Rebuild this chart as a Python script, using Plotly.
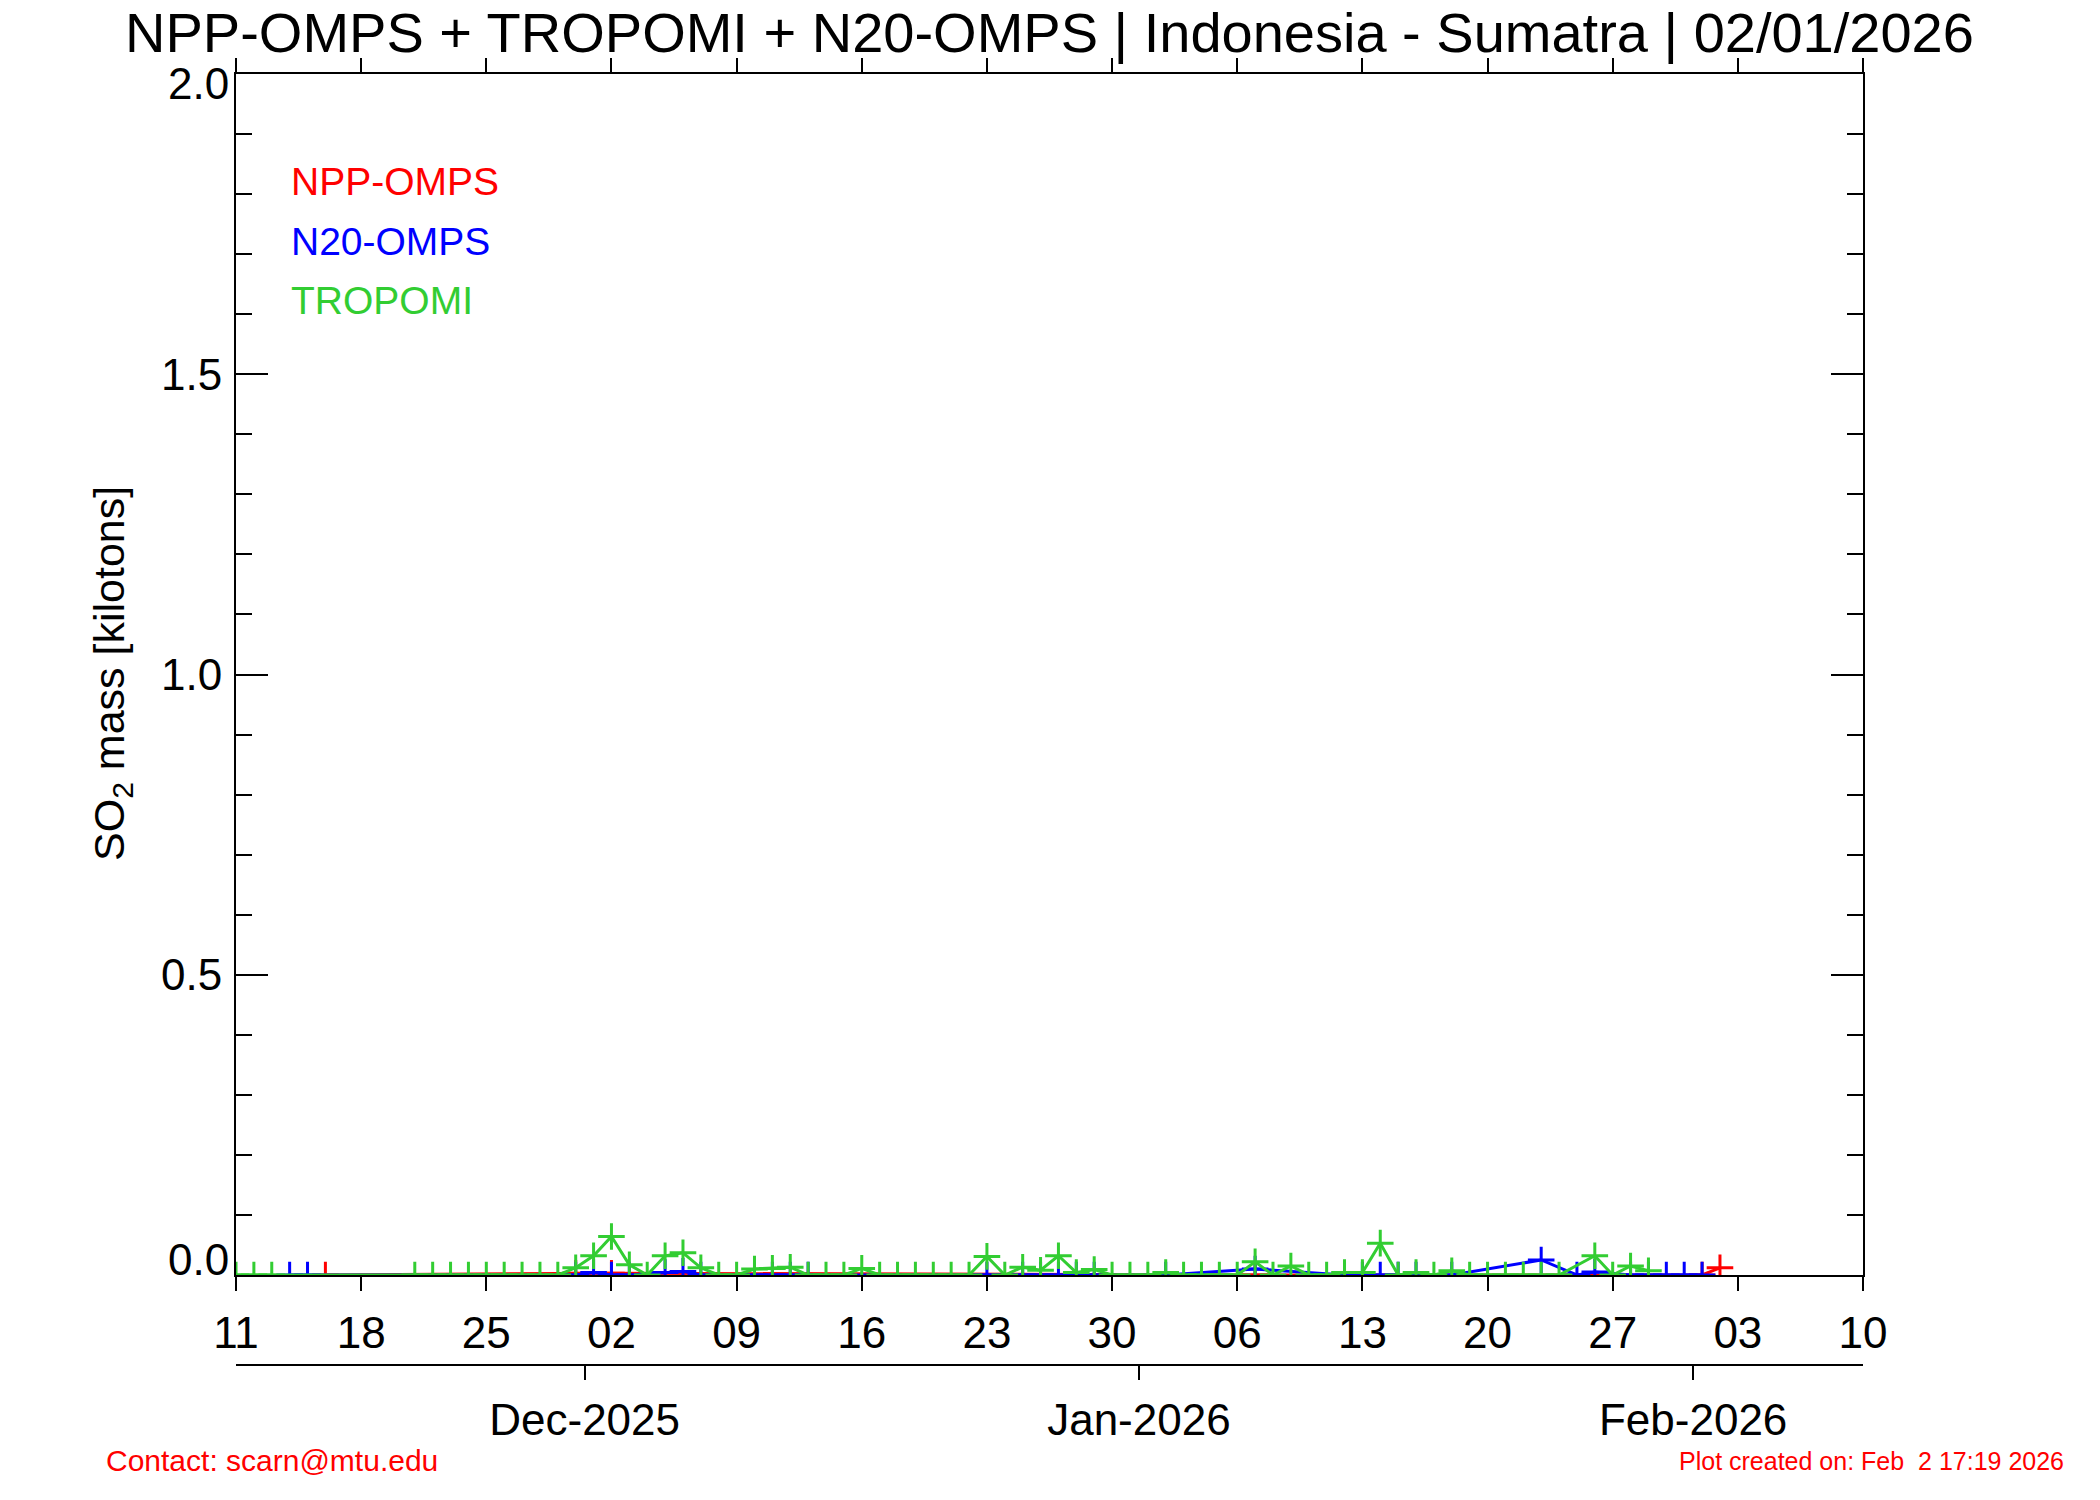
import plotly.graph_objects as go

# ---------------- data ----------------
NPP_DATES = ["2025-11-16", "2025-11-30", "2025-12-02", "2026-01-07", "2026-02-01", "2026-02-02"]
NPP_SO2 = [0.0, 0.003, 0.003, 0.0, 0.0, 0.012]

N20_DATES = ["2025-11-14", "2025-11-15", "2025-11-30", "2025-12-01", "2025-12-02", "2025-12-03",
             "2025-12-05", "2025-12-06", "2025-12-07", "2025-12-10", "2025-12-11", "2025-12-12",
             "2025-12-13", "2025-12-23", "2025-12-25", "2025-12-26", "2025-12-27", "2025-12-28",
             "2025-12-29", "2026-01-02", "2026-01-07", "2026-01-12", "2026-01-13", "2026-01-14",
             "2026-01-15", "2026-01-16", "2026-01-18", "2026-01-23", "2026-01-25", "2026-01-26",
             "2026-01-28", "2026-01-29", "2026-01-30", "2026-01-31", "2026-02-01"]
N20_SO2 = [0.0, 0.0, 0.0, 0.004, 0.0, 0.0,
           0.004, 0.006, 0.0, 0.0, 0.0, 0.0,
           0.0, 0.0, 0.0, 0.0, 0.0, 0.0,
           0.0, 0.0, 0.010, 0.0, 0.0, 0.0,
           0.0, 0.0, 0.0, 0.025, 0.0, 0.005,
           0.0, 0.0, 0.0, 0.0, 0.0]

TROPOMI_DATES = ["2025-11-11", "2025-11-12", "2025-11-13", "2025-11-21", "2025-11-22", "2025-11-23",
                 "2025-11-24", "2025-11-25", "2025-11-26", "2025-11-27", "2025-11-28", "2025-11-29",
                 "2025-11-30", "2025-12-01", "2025-12-02", "2025-12-03", "2025-12-04", "2025-12-05",
                 "2025-12-06", "2025-12-07", "2025-12-08", "2025-12-09", "2025-12-10", "2025-12-11",
                 "2025-12-12", "2025-12-13", "2025-12-14", "2025-12-15", "2025-12-16", "2025-12-17",
                 "2025-12-18", "2025-12-19", "2025-12-20", "2025-12-21", "2025-12-22", "2025-12-23",
                 "2025-12-24", "2025-12-25", "2025-12-26", "2025-12-27", "2025-12-28", "2025-12-29",
                 "2025-12-30", "2025-12-31", "2026-01-01", "2026-01-02", "2026-01-03", "2026-01-04",
                 "2026-01-05", "2026-01-06", "2026-01-07", "2026-01-08", "2026-01-09", "2026-01-10",
                 "2026-01-11", "2026-01-12", "2026-01-13", "2026-01-14", "2026-01-15", "2026-01-16",
                 "2026-01-17", "2026-01-18", "2026-01-19", "2026-01-20", "2026-01-21", "2026-01-22",
                 "2026-01-23", "2026-01-24", "2026-01-26", "2026-01-27", "2026-01-28", "2026-01-29"]
TROPOMI_SO2 = [0.0, 0.0, 0.0, 0.0, 0.0, 0.0,
               0.0, 0.0, 0.0, 0.0, 0.0, 0.0,
               0.012, 0.032, 0.064, 0.017, 0.0, 0.032,
               0.037, 0.012, 0.0, 0.0, 0.010, 0.011,
               0.013, 0.0, 0.0, 0.0, 0.011, 0.0,
               0.0, 0.0, 0.0, 0.0, 0.0, 0.031,
               0.0, 0.013, 0.008, 0.032, 0.004, 0.009,
               0.0, 0.0, 0.0, 0.004, 0.0, 0.0,
               0.0, 0.0, 0.022, 0.0, 0.015, 0.0,
               0.0, 0.004, 0.004, 0.053, 0.0, 0.004,
               0.0, 0.007, 0.0, 0.0, 0.0, 0.0,
               0.0, 0.0, 0.032, 0.0, 0.015, 0.007]

SERIES_NAMES = ["NPP-OMPS", "N20-OMPS", "TROPOMI"]
SERIES_COLORS = ["#FF0000", "#0000FF", "#32CD32"]

X_RANGE = ["2025-11-11", "2026-02-10"]
WEEK_TICK0 = "2025-11-11"
MONTH_TICKS = ["2025-11-30 12:00", "2025-12-31 12:00", "2026-01-31 12:00"]
MONTH_LABELS = ["Dec-2025", "Jan-2026", "Feb-2026"]
Y_TICKS = [0.5, 1.0, 1.5]
Y_TICK_LABELS = ["0.5", "1.0", "1.5"]
Y_END_TICKS = [0.0, 2.0]
Y_END_LABELS = ["0.0", "2.0"]

TITLE = "NPP-OMPS + TROPOMI + N20-OMPS | Indonesia - Sumatra | 02/01/2026"
Y_TITLE = "SO<sub>2</sub> mass [kilotons]"
CONTACT = "Contact: scarn@mtu.edu"
CREATED = "Plot created on: Feb\u00a0\u00a02 17:19 2026"

# ---------------- layout geometry ----------------
FONT = "Liberation Sans, Arial, Helvetica, sans-serif"
W, H = 2100, 1500
ML, MR, MT, MB = 236, 237, 74, 100
PW = W - ML - MR
PH = H - MT - MB
PLOT_BOTTOM = 1275
YDOM0 = (H - MB - PLOT_BOTTOM) / PH
MONTH_AXIS_Y = 1365
MONTH_POS = (H - MB - MONTH_AXIS_Y) / PH


def px_x(px):
    return (px - ML) / PW


def px_y(py):
    return (H - MB - py) / PH


fig = go.Figure()
for name, dates, vals, color in [
    (SERIES_NAMES[0], NPP_DATES, NPP_SO2, SERIES_COLORS[0]),
    (SERIES_NAMES[1], N20_DATES, N20_SO2, SERIES_COLORS[1]),
    (SERIES_NAMES[2], TROPOMI_DATES, TROPOMI_SO2, SERIES_COLORS[2]),
]:
    fig.add_trace(go.Scatter(
        x=dates, y=vals, name=name, mode="lines+markers",
        line=dict(color=color, width=3),
        marker=dict(symbol="cross-thin", size=19, line=dict(color=color, width=3)),
        cliponaxis=True, showlegend=False,
    ))

# invisible trace so the month axis is drawn
fig.add_trace(go.Scatter(x=MONTH_TICKS, y=[None] * len(MONTH_TICKS), xaxis="x2",
                         mode="markers", showlegend=False, hoverinfo="skip"))

axis_common = dict(showline=True, linecolor="black", linewidth=2, showgrid=False,
                   zeroline=False, tickcolor="black", tickwidth=2)

fig.update_layout(
    width=W, height=H,
    margin=dict(l=ML, r=MR, t=MT, b=MB, pad=0),
    paper_bgcolor="white", plot_bgcolor="white",
    font=dict(family=FONT, color="black", size=44),
    title=dict(text=TITLE, x=0.5, xref="paper", xanchor="center",
               y=1 - 32 / H, yref="container", yanchor="middle",
               font=dict(size=56, family=FONT, color="black")),
    xaxis=dict(type="date", range=X_RANGE, tick0=WEEK_TICK0, dtick=7 * 86400000,
               tickformat="%d", ticks="outside", ticklen=14, mirror="ticks",
               tickfont=dict(size=44), ticklabelstandoff=4, **axis_common),
    xaxis2=dict(type="date", range=X_RANGE, overlaying="x", anchor="free",
                position=MONTH_POS, side="bottom", tickmode="array",
                tickvals=MONTH_TICKS, ticktext=MONTH_LABELS, ticks="outside",
                ticklen=14, tickfont=dict(size=44), ticklabelstandoff=2, **axis_common),
    yaxis=dict(range=[0, 2], domain=[YDOM0, 1], tickmode="array", tickvals=Y_TICKS,
               ticktext=Y_TICK_LABELS, ticks="inside", ticklen=32, mirror="ticks",
               tickfont=dict(size=44), ticklabelstandoff=3,
               minor=dict(tickmode="linear", tick0=0, dtick=0.1, ticks="inside",
                          ticklen=16, tickwidth=2, tickcolor="black", showgrid=False),
               **axis_common),
)

annotations = []
# end labels of the y axis (shifted inward as in the reference)
for val, lab, shift in zip(Y_END_TICKS, Y_END_LABELS, [16, -9]):
    annotations.append(dict(x=0, xref="paper", y=val, yref="y", text=lab, showarrow=False,
                            xanchor="right", yanchor="middle", xshift=-5, yshift=shift,
                            font=dict(size=44, family=FONT, color="black")))
# legend text
for i, (name, color) in enumerate(zip(SERIES_NAMES, SERIES_COLORS)):
    annotations.append(dict(x=px_x(289), xref="paper", y=px_y(181 + 60 * i), yref="paper",
                            text=name, showarrow=False, xanchor="left", yanchor="middle",
                            font=dict(size=39, family=FONT, color=color)))
# y axis title
annotations.append(dict(x=px_x(112), xref="paper", y=px_y(674), yref="paper", text=Y_TITLE,
                        textangle=-90, showarrow=False, xanchor="center", yanchor="middle",
                        font=dict(size=43, family=FONT, color="black")))
# footer
annotations.append(dict(x=px_x(104), xref="paper", y=px_y(1460), yref="paper", text=CONTACT,
                        showarrow=False, xanchor="left", yanchor="middle",
                        font=dict(size=30, family=FONT, color="#FF0000")))
annotations.append(dict(x=px_x(2066), xref="paper", y=px_y(1461), yref="paper", text=CREATED,
                        showarrow=False, xanchor="right", yanchor="middle",
                        font=dict(size=25, family=FONT, color="#FF0000")))
fig.update_layout(annotations=annotations)

fig.write_html("out.html", config={"displayModeBar": False},
               post_script="document.body.style.margin='0';")
